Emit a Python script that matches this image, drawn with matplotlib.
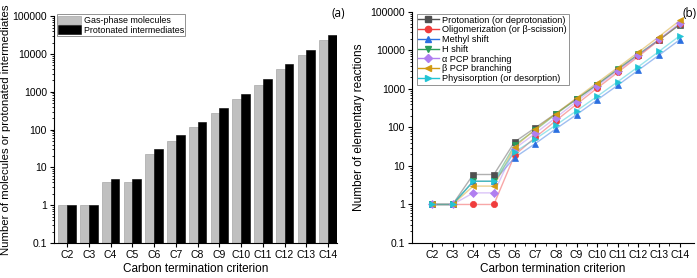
import matplotlib
matplotlib.use("Agg")
import matplotlib.pyplot as plt
from matplotlib.ticker import LogLocator, NullFormatter, FixedLocator, FixedFormatter
import numpy as np

plt.rcParams['font.family'] = ['Liberation Sans', 'DejaVu Sans']

categories = ["C2", "C3", "C4", "C5", "C6", "C7", "C8", "C9", "C10", "C11", "C12", "C13", "C14"]

# Panel (a)
gas_phase = [1, 1, 4, 4, 23, 50, 115, 270, 650, 1550, 3900, 9600, 24000]
protonated = [1, 1, 5, 5, 31, 72, 160, 370, 880, 2150, 5300, 13000, 32000]

# Panel (b)
protonation = [1, 1, 6, 6, 42, 98, 230, 550, 1300, 3200, 7800, 19000, 47000]
oligomerization = [1, 1, 1, 1, 19, 55, 150, 400, 1050, 2700, 7000, 18500, 48000]
methyl_shift = [1, 1, 4, 4, 16.5, 38, 92, 215, 520, 1250, 3100, 7600, 19000]
h_shift = [1, 1, 4, 4, 35, 85, 220, 540, 1300, 3300, 8000, 19000, 47000]
alpha_pcp = [1, 1, 2, 2, 28, 70, 180, 470, 1200, 3000, 7600, 19500, 52000]
beta_pcp = [1, 1, 3, 3, 31, 90, 230, 580, 1450, 3600, 9000, 23000, 60000]
physisorption = [1, 1, 4, 4, 23, 50, 115, 270, 640, 1550, 3800, 9500, 24000]

series_b = [
    ("Protonation (or deprotonation)", protonation, "#505050", "s"),
    ("Oligomerization (or \u03b2-scission)", oligomerization, "#f03c3c", "o"),
    ("Methyl shift", methyl_shift, "#2a6fe0", "^"),
    ("H shift", h_shift, "#2a9d5a", "v"),
    ("\u03b1 PCP branching", alpha_pcp, "#b07ef0", "D"),
    ("\u03b2 PCP branching", beta_pcp, "#d19a12", "<"),
    ("Physisorption (or desorption)", physisorption, "#22c4d4", ">"),
]

fig = plt.figure(figsize=(6.97, 2.78), dpi=100)
ax1 = fig.add_axes([0.0775, 0.126, 0.406, 0.816])
ax2 = fig.add_axes([0.591, 0.126, 0.405, 0.831])

x = np.arange(len(categories))
w = 0.4
ax1.bar(x - w / 2, gas_phase, width=w, color="#c0c0c0", edgecolor="#9a9a9a", linewidth=0.4,
        label="Gas-phase molecules")
ax1.bar(x + w / 2, protonated, width=w, color="black", edgecolor="black", linewidth=0.4,
        label="Protonated intermediates")

for label, vals, c, m in series_b:
    ax2.plot(x, vals, color=c, alpha=0.45, lw=1.0, zorder=2)
    ax2.plot(x, vals, ls="none", marker=m, color=c, ms=4.5, markeredgewidth=0.5, zorder=3)
    ax2.plot([], [], color=c, marker=m, ms=4.5, lw=1.0, label=label)

for ax in (ax1, ax2):
    ax.set_yscale("log")
    ax.set_ylim(0.1, 100000)
    ax.yaxis.set_major_locator(FixedLocator([0.1, 1, 10, 100, 1000, 10000, 100000]))
    ax.yaxis.set_major_formatter(FixedFormatter(["0.1", "1", "10", "100", "1000", "10000", "100000"]))
    ax.yaxis.set_minor_locator(LogLocator(base=10, subs=np.arange(2, 10), numticks=20))
    ax.yaxis.set_minor_formatter(NullFormatter())
    ax.set_xticks(x)
    ax.set_xticklabels(categories)
    ax.spines["top"].set_visible(False)
    ax.spines["right"].set_visible(False)
    ax.tick_params(axis="both", which="major", labelsize=7.5, length=3, width=0.8, direction="out", pad=2)
    ax.tick_params(axis="both", which="minor", length=1.5, width=0.6, direction="out")
    ax.set_xlabel("Carbon termination criterion", fontsize=8.5, labelpad=2)

ax1.set_xlim(-0.6, 12.41)
ax2.set_xlim(-0.97, 12.7)
ax2.set_xticks(x[:-1] + 0.5, minor=True)
ax2.tick_params(axis="x", which="minor", length=1.8)

ax1.set_ylabel("Number of molecules or protonated intermediates", fontsize=8.2, labelpad=1)
ax2.set_ylabel("Number of elementary reactions", fontsize=8.5, labelpad=4)

leg1 = ax1.legend(loc="upper left", bbox_to_anchor=(0.0, 1.02), fontsize=6.4, frameon=True, fancybox=False,
                  edgecolor="#777777", handlelength=2.6, handleheight=1.15, handletextpad=0.3,
                  borderpad=0.15, labelspacing=0.05, borderaxespad=0.3)
leg1.get_frame().set_linewidth(0.7)

leg2 = ax2.legend(loc="upper left", bbox_to_anchor=(0.01, 1.0), fontsize=6.6, frameon=True, fancybox=False,
                  edgecolor="#777777", handlelength=2.2, handletextpad=0.4,
                  borderpad=0.2, labelspacing=0.08, borderaxespad=0.2)
leg2.get_frame().set_linewidth(0.7)

fig.text(0.486, 0.975, "(a)", fontsize=8.5, ha="center", va="top", family="Open Sans")
fig.text(0.99, 0.975, "(b)", fontsize=8.5, ha="center", va="top", family="Open Sans")

fig.savefig("out.png", dpi=100)
